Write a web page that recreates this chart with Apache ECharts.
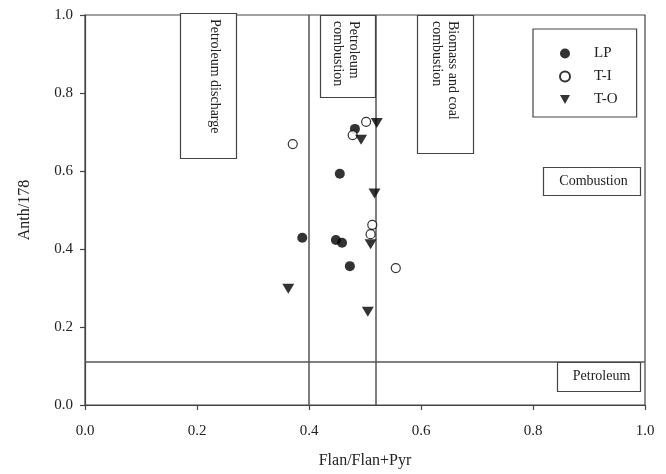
<!DOCTYPE html>
<html>
<head>
<meta charset="utf-8">
<script src="https://cdn.jsdelivr.net/npm/echarts@6/dist/echarts.min.js"></script>
<style>
  html, body { margin : 0; padding : 0; background : #fff; }
  #chart { width : 666px; height : 474px; }
</style>
</head>
<body>
<div id="chart"></div>
<script>
// ---------------------- BEGIN DATA ------------------------
// [Flan/Flan+Pyr, Anth/178]
var lpData = [
  [0.482, 0.708], [0.455, 0.593], [0.388, 0.429],
  [0.448, 0.423], [0.459, 0.416], [0.473, 0.356]
];
var tiData = [
  [0.502, 0.726], [0.371, 0.669], [0.478, 0.692],
  [0.513, 0.462], [0.510, 0.438], [0.555, 0.351]
];
var toData = [
  [0.521, 0.723], [0.493, 0.680], [0.517, 0.542],
  [0.510, 0.412], [0.363, 0.298], [0.505, 0.239]
];
var seriesNames = ['LP', 'T-I', 'T-O'];
var xTicks = [0, 0.2, 0.4, 0.6, 0.8, 1.0];
var yTicks = [0, 0.2, 0.4, 0.6, 0.8, 1.0];
var xThresholds = [0.395, 0.52];
var yThresholds = [0.11];
// ----------------------- END DATA -------------------------

var chartMod = (function () {
  var
    FONT = '"Liberation Serif", "DejaVu Serif", serif',
    INK = '#222',
    LINE = '#444',
    DOWN_TRI = 'path://M0,0L10,0L5,9Z',
    myChart, buildOption, drawNotes, initModule
  ;

  // annotation boxes, in data units: [x0, x1, y0, y1]; dx nudges the text
  var notes = [
    { box : [0.170, 0.270, 0.632, 1.005], text : 'Petroleum discharge', vertical : true, dx : 6 },
    { box : [0.420, 0.518, 0.790, 1.000], text : 'Petroleum\ncombustion', vertical : true, dx : -2 },
    { box : [0.593, 0.693, 0.647, 1.000], text : 'Biomass and coal\ncombustion', vertical : true, dx : 0 },
    { box : [0.818, 0.991, 0.537, 0.609], text : 'Combustion', vertical : false, dx : 2 },
    { box : [0.843, 0.991, 0.036, 0.110], text : 'Petroleum', vertical : false, dx : 3 }
  ];

  buildOption = function () {
    var axisCommon = {
      type : 'value', min : 0, max : 1, interval : 0.2,
      splitLine : { show : false },
      axisLine  : { show : true, onZero : false, lineStyle : { color : LINE, width : 1.2 } },
      axisTick  : { show : true, inside : false, length : 5, lineStyle : { color : LINE, width : 1.2 } },
      nameLocation : 'middle',
      nameTextStyle : { fontFamily : FONT, fontSize : 16, color : INK }
    };

    var refLines = [];
    xThresholds.forEach(function (v) { refLines.push({ xAxis : v }); });
    yThresholds.forEach(function (v) { refLines.push({ yAxis : v }); });

    return {
      animation : false,
      backgroundColor : '#fff',
      textStyle : { fontFamily : FONT },
      grid : {
        left : 85, right : 21, top : 15, bottom : 68,
        show : true, borderColor : LINE, borderWidth : 1.2, backgroundColor : 'transparent'
      },
      legend : {
        data : [
          { name : seriesNames[0], icon : 'circle' },
          { name : seriesNames[1], icon : 'circle' },
          { name : seriesNames[2], icon : DOWN_TRI }
        ],
        orient : 'vertical',
        left : 533, top : 29,
        padding : [17, 19, 10, 26],
        itemGap : 8,
        itemWidth : 10, itemHeight : 10,
        borderColor : LINE, borderWidth : 1.2,
        backgroundColor : '#fff',
        textStyle : { fontFamily : FONT, fontSize : 15, color : INK, padding : [0, 0, 0, 19] }
      },
      xAxis : Object.assign({}, axisCommon, {
        name : 'Flan/Flan+Pyr',
        nameGap : 48,
        axisLabel : {
          fontFamily : FONT, fontSize : 15, color : INK, margin : 19,
          customValues : xTicks,
          formatter : function (v) { return v.toFixed(1); }
        }
      }),
      yAxis : Object.assign({}, axisCommon, {
        name : 'Anth/178',
        nameGap : 52,
        axisLabel : {
          fontFamily : FONT, fontSize : 15, color : INK, margin : 12,
          customValues : yTicks,
          formatter : function (v) { return v.toFixed(1); }
        }
      }),
      series : [
        {
          name : seriesNames[0], type : 'scatter', data : lpData,
          symbol : 'circle', symbolSize : 10,
          itemStyle : { color : '#000' },
          markLine : {
            silent : true, symbol : 'none', label : { show : false },
            lineStyle : { color : '#555', width : 1.5, type : 'solid' },
            data : refLines
          },
          z : 5
        },
        {
          name : seriesNames[1], type : 'scatter', data : tiData,
          symbol : 'circle', symbolSize : 9,
          itemStyle : { color : '#fff', borderColor : '#000', borderWidth : 1.2 },
          z : 5
        },
        {
          name : seriesNames[2], type : 'scatter', data : toData,
          symbol : DOWN_TRI, symbolSize : [12, 10],
          itemStyle : { color : '#000' },
          z : 5
        }
      ]
    };
  };

  drawNotes = function () {
    var els = [];
    notes.forEach(function (n) {
      var p0 = myChart.convertToPixel({ gridIndex : 0 }, [n.box[0], n.box[3]]);
      var p1 = myChart.convertToPixel({ gridIndex : 0 }, [n.box[1], n.box[2]]);
      var w = p1[0] - p0[0], h = p1[1] - p0[1];
      els.push({
        type : 'rect', z : 50,
        shape : { x : Math.round(p0[0]) + 0.5, y : Math.round(p0[1]) + 0.5, width : Math.round(w), height : Math.round(h) },
        style : { fill : '#fff', stroke : LINE, lineWidth : 1.2 }
      });
      if (n.vertical) {
        els.push({
          type : 'text', z : 51,
          x : p0[0] + w / 2 + n.dx, y : p0[1] + 6,
          rotation : -Math.PI / 2,
          style : {
            text : n.text, fontFamily : FONT, fontSize : 14, fill : INK,
            align : 'left', verticalAlign : 'middle', lineHeight : 16
          }
        });
      } else {
        els.push({
          type : 'text', z : 51,
          x : p0[0] + w / 2 + n.dx, y : p0[1] + h / 2,
          style : {
            text : n.text, fontFamily : FONT, fontSize : 14, fill : INK,
            align : 'center', verticalAlign : 'middle'
          }
        });
      }
    });
    myChart.setOption({ graphic : { elements : els } });
  };

  initModule = function (el) {
    myChart = echarts.init(el, null, { renderer : 'canvas' });
    myChart.setOption(buildOption());
    drawNotes();
  };

  return { initModule : initModule };
}());

chartMod.initModule(document.getElementById('chart'));
</script>
</body>
</html>
